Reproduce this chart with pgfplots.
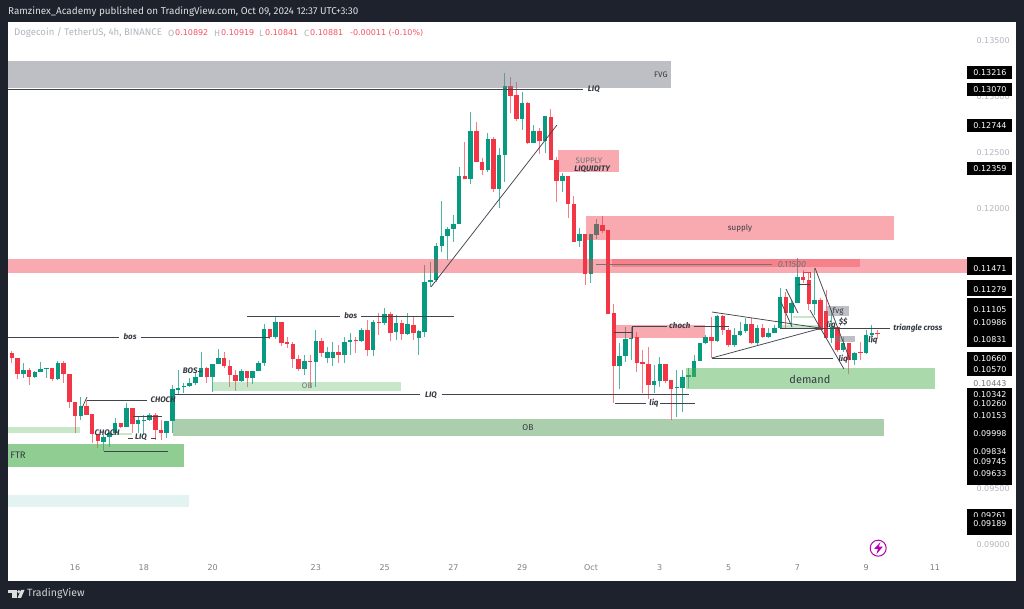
\documentclass[border=0pt]{standalone}
\usepackage{pgfplots}
\pgfplotsset{compat=1.18}
\usepackage{pgfplotstable}
\usepackage{fontspec}
\setmainfont{Fira Sans}
\newfontfamily\numf{DejaVu Sans}
\definecolor{upg}{HTML}{089981}
\definecolor{dnr}{HTML}{F23645}
\definecolor{upw}{HTML}{4DB6A0}
\definecolor{dnw}{HTML}{F77C87}
\definecolor{panel}{HTML}{1E222D}
\definecolor{axtxt}{HTML}{B2B5BE}
\definecolor{ink}{HTML}{131722}
\definecolor{zgrey}{HTML}{787B86}
\definecolor{zgreen}{HTML}{4CAF50}
\definecolor{zdeep}{HTML}{388E3C}
\definecolor{zteal}{HTML}{26A69A}
\definecolor{vred}{HTML}{F7525F}
% columns: candle index (4h), open, high, low, close
\pgfplotstableread{
i o h l c
3 .10527 .10622 .10494 .10560
5 .10503 .10557 .10494 .10542
6 .10542 .10637 .10542 .10571
7 .10577 .10583 .10494 .10583
9 .10479 .10643 .10473 .10622
13 .10155 .10324 .10116 .10241
17 .09923 .09982 .09839 .09964
18 .09964 .10012 .09878 .10003
19 .10003 .10131 .09997 .10086
21 .10057 .10265 .10051 .10226
23 .10077 .10152 .09997 .10113
24 .10113 .10161 .09982 .10116
25 .10113 .10176 .10110 .10161
28 .09997 .10107 .09952 .10107
29 .10107 .10429 .09997 .10390
30 .10384 .10563 .10339 .10405
31 .10411 .10443 .10360 .10423
32 .10423 .10488 .10408 .10443
33 .10443 .10533 .10429 .10500
34 .10500 .10720 .10500 .10577
36 .10497 .10613 .10369 .10613
37 .10613 .10753 .10613 .10667
41 .10464 .10569 .10458 .10557
43 .10491 .10557 .10438 .10557
44 .10557 .10646 .10557 .10622
45 .10622 .10973 .10598 .10929
47 .10860 .11048 .10842 .10994
52 .10568 .10697 .10518 .10646
54 .10637 .10920 .10414 .10818
56 .10667 .10771 .10622 .10720
57 .10667 .10815 .10601 .10726
59 .10697 .10854 .10622 .10810
60 .10810 .10890 .10697 .10827
62 .10824 .10935 .10815 .10917
64 .10741 .11009 .10688 .10988
66 .10982 .11113 .10964 .11062
68 .10899 .11054 .10830 .10985
70 .10884 .11068 .10875 .10970
72 .10851 .10920 .10697 .10908
73 .10905 .11500 .10860 .11351
74 .11348 .11530 .11307 .11366
75 .11366 .11694 .11351 .11673
76 .11673 .12072 .11619 .11759
77 .11759 .11842 .11545 .11819
78 .11819 .11947 .11703 .11866
79 .11866 .12372 .11866 .12295
81 .12265 .12869 .12223 .12694
84 .12348 .12676 .12333 .12625
86 .12182 .12542 .12012 .12485
87 .12485 .13211 .12244 .13098
90 .12804 .13048 .12705 .12944
92 .12592 .12750 .12586 .12700
94 .12607 .12830 .12497 .12830
97 .12253 .12319 .12155 .12295
100 .11714 .11828 .11664 .11777
102 .11420 .11777 .11342 .11777
103 .11771 .11908 .11732 .11866
107 .10598 .10801 .10390 .10688
108 .10688 .10950 .10637 .10836
109 .10836 .10950 .10652 .10845
113 .10429 .10607 .10360 .10461
114 .10461 .10682 .10408 .10613
117 .10402 .10563 .10146 .10408
118 .10402 .10563 .10191 .10503
119 .10503 .10577 .10399 .10518
120 .10503 .10697 .10503 .10640
121 .10640 .10801 .10640 .10801
122 .10801 .10875 .10795 .10854
124 .10824 .11054 .10816 .11045
127 .10786 .10935 .10771 .10875
128 .10875 .10994 .10866 .10914
129 .10914 .11024 .10890 .10973
131 .10807 .10964 .10777 .10940
133 .10854 .10935 .10845 .10896
134 .10896 .10964 .10890 .10935
135 .10935 .11292 .10935 .11217
137 .11068 .11187 .10964 .11158
138 .11164 .11560 .11158 .11396
141 .11152 .11470 .11054 .11187
144 .10845 .11098 .10801 .10949
146 .10741 .10854 .10726 .10801
148 .10652 .10726 .10607 .10711
150 .10711 .10920 .10705 .10875
151 .10878 .10964 .10801 .10896
}\upcandles
\pgfplotstableread{
i o h l c
1 .10711 .10735 .10628 .10673
2 .10673 .10673 .10485 .10527
4 .10560 .10577 .10432 .10503
8 .10577 .10583 .10464 .10479
10 .10622 .10643 .10443 .10527
11 .10527 .10527 .10220 .10280
12 .10280 .10280 .10003 .10155
14 .10241 .10295 .10161 .10161
15 .10167 .10167 .09908 .09991
16 .09991 .09991 .09863 .09929
20 .10086 .10092 .10042 .10057
22 .10226 .10226 .09997 .10077
26 .10161 .10176 .09938 .10027
27 .10027 .10116 .09938 .10003
35 .10577 .10592 .10443 .10497
38 .10667 .10726 .10583 .10595
39 .10595 .10652 .10408 .10521
40 .10521 .10563 .10378 .10464
42 .10557 .10557 .10408 .10491
46 .10929 .10929 .10842 .10860
48 .10994 .10994 .10777 .10801
49 .10810 .10860 .10756 .10795
50 .10795 .10815 .10577 .10661
51 .10661 .10697 .10557 .10568
53 .10643 .10697 .10399 .10637
55 .10818 .10845 .10682 .10717
58 .10726 .10786 .10622 .10697
61 .10830 .10860 .10711 .10824
63 .10917 .11009 .10688 .10741
65 .10988 .11068 .10875 .10982
67 .11062 .11083 .10824 .10896
69 .10982 .11009 .10830 .10884
71 .10964 .11039 .10830 .10890
80 .12295 .12598 .12265 .12265
82 .12694 .12780 .12423 .12423
83 .12423 .12452 .12304 .12348
85 .12622 .12640 .12152 .12182
88 .13098 .13176 .12854 .13012
89 .13015 .13137 .12785 .12804
91 .12944 .12958 .12586 .12592
93 .12700 .12720 .12488 .12607
95 .12824 .12893 .12438 .12438
96 .12438 .12467 .12066 .12253
98 .12295 .12295 .11917 .12048
99 .12045 .12116 .11708 .11708
101 .11777 .11777 .11325 .11420
104 .11860 .11938 .11789 .11807
105 .11810 .11810 .11066 .11066
106 .11069 .11149 .10265 .10601
110 .10854 .10905 .10542 .10628
111 .10631 .10741 .10360 .10619
112 .10619 .10771 .10304 .10429
115 .10613 .10613 .10450 .10461
116 .10470 .10470 .10116 .10396
123 .10854 .11039 .10667 .10824
125 .11045 .11054 .10875 .10920
126 .10920 .10935 .10765 .10786
130 .10973 .11024 .10801 .10807
132 .10940 .10973 .10854 .10860
136 .11217 .11262 .10935 .11068
139 .11396 .11455 .11336 .11366
140 .11366 .11426 .11098 .11152
142 .11187 .11202 .10920 .10920
143 .11089 .11277 .10845 .10845
145 .10949 .10949 .10726 .10741
147 .10801 .10801 .10527 .10652
149 .10726 .10816 .10652 .10720
152 .10892 .10919 .10841 .10881
}\dncandles
\newcommand{\zone}[6]{\fill[#1,fill opacity=#2] (axis cs:#3,#4) rectangle (axis cs:#5,#6);}
\newcommand{\tline}[4]{\draw[ink!80,line width=.75pt] (axis cs:#1,#2) -- (axis cs:#3,#4);}
\tikzset{
 lab/.style={font=\fontsize{8}{9}\selectfont,text=ink!85,inner sep=0pt},
 ilab/.style={font=\fontsize{8}{9}\selectfont\itshape\bfseries,text=ink!85,inner sep=0pt},
 tag/.style={fill=black,text=white,minimum width=45pt,minimum height=13.3pt,inner sep=0pt,font=\fontsize{8}{9}\selectfont\numf},
 gtag/.style={tag,fill=white,text=ink!60}
}
\begin{document}
\begin{tikzpicture}[x=1pt,y=1pt]
\path[use as bounding box] (0,0) rectangle (1024,609);
\fill[panel] (0,0) rectangle (1024,609);
\fill[white] (8,28) rectangle (1016,587);
\begin{axis}[
 at={(8pt,28pt)},anchor=south west,width=1008pt,height=559pt,scale only axis,
 xmin=0.31,xmax=176.14,ymin=0.08678,ymax=0.13670,
 axis line style={draw=none},
 xtick={12,24,36,54,66,78,90,102,114,126,138,150,162},
 xticklabels={16,18,20,23,25,27,29,Oct,3,5,7,9,11},
 ytick={0.09,0.095,0.12,0.125,0.13,0.135},
 yticklabels={0.09000,0.09500,0.12000,0.12500,0.13000,0.13500},
 tick style={draw=none},
 ticklabel pos=right,
 xticklabel pos=lower,
 x tick label style={font=\fontsize{8}{9}\selectfont\numf,text=ink!55,yshift=20pt},
 y tick label style={font=\fontsize{8}{9}\selectfont\numf,text=axtxt,xshift=-43pt},
 clip=false,
]
% wicks
\addplot[forget plot,draw=none,no markers,error bars/.cd,y dir=both,y explicit,error mark=none,error bar style={line width=1pt,draw=upw}]
 table[x=i,y=c,y error plus expr=\thisrow{h}-\thisrow{c},y error minus expr=\thisrow{c}-\thisrow{l}] {\upcandles};
\addplot[forget plot,draw=none,no markers,error bars/.cd,y dir=both,y explicit,error mark=none,error bar style={line width=1pt,draw=dnw}]
 table[x=i,y=c,y error plus expr=\thisrow{h}-\thisrow{c},y error minus expr=\thisrow{c}-\thisrow{l}] {\dncandles};
% bodies
\addplot[forget plot,draw=none,no markers,error bars/.cd,y dir=minus,y explicit,error mark=none,error bar style={line width=4.5pt,draw=upg}]
 table[x=i,y=c,y error minus expr=\thisrow{c}-\thisrow{o}] {\upcandles};
\addplot[forget plot,draw=none,no markers,error bars/.cd,y dir=plus,y explicit,error mark=none,error bar style={line width=4.5pt,draw=dnr}]
 table[x=i,y=c,y error plus expr=\thisrow{o}-\thisrow{c}] {\dncandles};
% zones
\zone{zgrey}{.48}{.31}{.13321}{115.96}{.13080}
\zone{dnr}{.42}{96.25}{.12527}{106.89}{.12330}
\zone{dnr}{.42}{101.13}{.11938}{154.86}{.11723}
\zone{dnr}{.42}{.31}{.11554}{167.76}{.11429}
\zone{dnr}{.35}{105.67}{.11554}{148.93}{.11482}
\zone{dnr}{.42}{106.19}{.10964}{121.89}{.10848}
\zone{zgreen}{.3}{36.07}{.10455}{68.86}{.10375}
\zone{zgreen}{.3}{.31}{.10054}{12.87}{.10000}
\zone{zgreen}{.3}{18.5}{.10000}{21.9}{.09982}
\zone{zgreen}{.62}{.31}{.09902}{31.0}{.09696}
\zone{zteal}{.13}{.31}{.09446}{31.89}{.09339}
\zone{zdeep}{.42}{29.09}{.10125}{153.11}{.09973}
\zone{zgreen}{.47}{118.58}{.10580}{162.0}{.10393}
\zone{zgrey}{.48}{143.17}{.11134}{147.0}{.11045}
\zone{zgrey}{.48}{144.57}{.10866}{148.05}{.10813}
\zone{zgreen}{.3}{137.24}{.11045}{140.73}{.11027}
\zone{zgreen}{.3}{134.97}{.10964}{141.95}{.10937}
% drawn lines
\tline{.31}{.13071}{100.6}{.13071}
\tline{.31}{.10857}{19.67}{.10857}
\tline{23.51}{.10857}{46.0}{.10857}
\tline{42.0}{.11040}{58.2}{.11040}
\tline{61.9}{.11040}{78.1}{.11040}
\tline{74.1}{.11304}{96.07}{.12750}
\tline{33.5}{.10554}{34.2}{.10554}
\tline{14.09}{.10295}{24.56}{.10295}
\tline{13.22}{.10223}{14.09}{.10321}
\tline{29.44}{.10344}{72.18}{.10344}
\tline{76.0}{.10344}{119.1}{.10344}
\tline{106.19}{.10268}{111.6}{.10268}
\tline{114.04}{.10268}{120.14}{.10268}
\tline{109.16}{.10955}{115.26}{.10955}
\tline{120.0}{.10955}{126.1}{.10955}
\tline{106.0}{.10896}{109.16}{.10896}
\tline{109.16}{.10955}{109.16}{.10848}
\tline{17.06}{.09839}{28.22}{.09839}
\tline{21.24}{.09955}{22.12}{.09955}
\tline{25.26}{.09955}{26.13}{.09955}
\tline{22.12}{.10152}{27.18}{.10152}
\tline{134.97}{.10937}{154.16}{.10937}
\tline{123.11}{.11080}{141.95}{.10937}
\tline{123.11}{.10670}{142.3}{.10937}
\tline{123.11}{.10670}{144.22}{.10670}
\tline{141.08}{.11473}{147.18}{.10652}
\tline{140.2}{.11098}{146.13}{.10571}
\tline{136.02}{.11286}{138.11}{.11071}
\tline{135.15}{.11170}{137.07}{.10946}
\tline{138.11}{.11330}{140.2}{.11330}
\draw[dnr,line width=.7pt] (axis cs:138.98,.11380) -- (axis cs:138.98,.11437) -- (axis cs:140.2,.11437) -- (axis cs:140.2,.11380);
\draw[black!55,line width=1pt] (axis cs:102.88,.11500) -- (axis cs:133.58,.11500);
% texts on the drawing
\node[lab] at (axis cs:114.2,.13196) {FVG};
\node[ilab] at (axis cs:102.5,.13071) {LIQ};
\node[lab,text=ink!60] at (axis cs:101.66,.12429) {SUPPLY};
\node[ilab] at (axis cs:102.2,.12357) {LIQUIDITY};
\node[lab] at (axis cs:128,.11830) {supply};
\node[lab,font=\fontsize{9}{10}\selectfont\itshape,text=ink!60] at (axis cs:137.07,.11500) {0.11500};
\node[ilab] at (axis cs:117.5,.10955) {choch};
\node[ilab] at (axis cs:21.6,.10857) {bos};
\node[ilab] at (axis cs:60.1,.11045) {bos};
\node[ilab] at (axis cs:32.1,.10554) {BOS};
\node[ilab] at (axis cs:27.35,.10295) {CHOCH};
\node[lab,text=ink!60] at (axis cs:52.5,.10420) {OB};
\node[ilab] at (axis cs:74.1,.10339) {LIQ};
\node[ilab] at (axis cs:113,.10268) {liq};
\node[ilab] at (axis cs:17.6,.10000) {CHOCH};
\node[ilab] at (axis cs:23.5,.09964) {LIQ};
\node[lab,font=\fontsize{9.5}{10}\selectfont] at (axis cs:2.06,.09804) {FTR};
\node[lab,font=\fontsize{8.5}{9}\selectfont] at (axis cs:91,.10045) {OB};
\node[lab,font=\fontsize{11}{12}\selectfont] at (axis cs:140.2,.10482) {demand};
\node[lab] at (axis cs:145.1,.11089) {fvg};
\node[ilab] at (axis cs:146,.10991) {\$\$};
\node[ilab] at (axis cs:143.9,.10964) {liq};
\node[ilab] at (axis cs:146,.10661) {liq};
\node[ilab] at (axis cs:151.2,.10830) {liq};
\node[ilab,anchor=west] at (axis cs:154.7,.10937) {triangle cross};
\end{axis}
\begin{axis}[
 at={(8pt,28pt)},anchor=south west,width=1008pt,height=559pt,scale only axis,
 xmin=0.31,xmax=176.14,ymin=0.08678,ymax=0.13670,hide axis,clip=false]
% price tags: the ones hidden under others are unreadable and are left as black boxes
\node[gtag] at (axis cs:171.6,.10443) {0.10443};
\foreach \p in {.11510,.11304,.11150,.10890,.10049,.09893,.09598,.09149}
  {\edef\temp{\noexpand\node[tag] at (axis cs:171.6,\p) {};}\temp}
\foreach \p/\t in {.13216/0.13216,.13070/0.13070,.12744/0.12744,.12359/0.12359,.11471/0.11471,.11279/0.11279,.11105/0.11105,.10986/0.10986,.10831/0.10831,.10660/0.10660,.10570/0.10570,.10342/0.10342,.10260/0.10260,.10153/0.10153,.09998/0.09998,.09834/0.09834,.09745/0.09745,.09633/0.09633,.09261/0.09261,.09189/0.09189}
  {\edef\temp{\noexpand\node[tag] at (axis cs:171.6,\p) {\t};}\temp}
% lightning icon
\draw[violet!60!magenta,line width=1pt] (axis cs:152.1,.08971) circle[radius=8pt];
\fill[violet!60!magenta] (axis cs:152.5,.09025) -- (axis cs:151.4,.08965) -- (axis cs:152.05,.08965) -- (axis cs:151.8,.08917) -- (axis cs:152.9,.08985) -- (axis cs:152.2,.08985) -- cycle;
\end{axis}
% header and footer
\node[anchor=west,text=white!85!panel,font=\fontsize{9.9}{10}\selectfont,inner sep=0pt] at (8,597) {Ramzinex\_Academy published on TradingView.com, Oct 09, 2024 12:37 UTC+3:30};
\node[anchor=west,text=axtxt,font=\fontsize{9.6}{10}\selectfont,inner sep=0pt] at (14,576) {Dogecoin / TetherUS, 4h, BINANCE};
\tikzset{hd/.style={anchor=west,text=axtxt,font=\fontsize{9}{10}\selectfont,inner sep=0pt},hv/.style={anchor=west,text=vred,font=\fontsize{8}{10}\selectfont\numf,inner sep=0pt}}
\node[hd] at (168,576) {O}; \node[hv] at (175,576) {0.10892};
\node[hd] at (214,576) {H}; \node[hv] at (221,576) {0.10919};
\node[hd] at (259,576) {L}; \node[hv] at (265,576) {0.10841};
\node[hd] at (304,576) {C}; \node[hv] at (310,576) {0.10881};
\node[hv] at (350,576) {-0.00011 (-0.10\%)};
% logo
\fill[white!85!panel] (8,16) rectangle (16.5,19);
\fill[white!85!panel] (12,11) rectangle (16.5,19);
\fill[white!85!panel] (18.8,17.3) circle (1.7);
\fill[white!85!panel] (17.5,11) -- (21,19) -- (24.5,19) -- (21,11) -- cycle;
\node[anchor=west,text=white!80!panel,font=\fontsize{10.5}{11}\selectfont,inner sep=0pt] at (27,15) {TradingView};
\end{tikzpicture}
\end{document}
